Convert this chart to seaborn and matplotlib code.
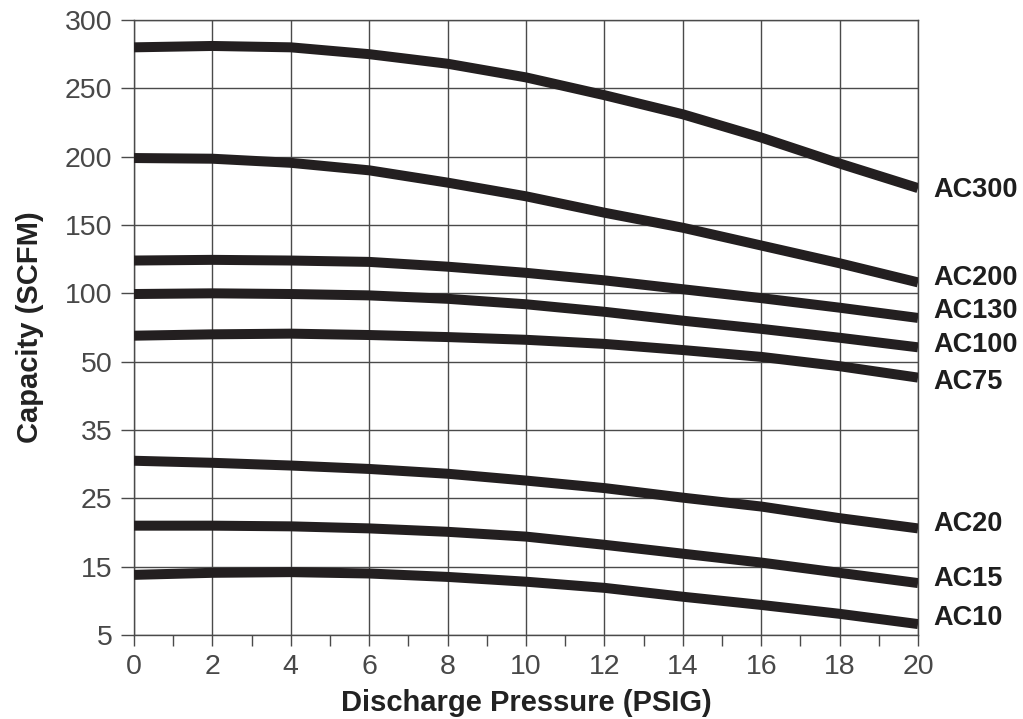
import numpy as np
import pandas as pd
import matplotlib
matplotlib.use("Agg")
import matplotlib.pyplot as plt
import seaborn as sns

# ---- data ----
pressure = [0, 2, 4, 6, 8, 10, 12, 14, 16, 18, 20]
ac300 = [280, 281, 280, 275, 268, 258, 245, 231, 214, 195, 177]
ac200 = [199, 198.5, 195.5, 190, 181, 171, 159, 148, 135, 122, 108]
ac130 = [124, 124.5, 124, 123, 119.5, 115, 109.5, 103, 96.5, 89.5, 82]
ac100 = [99.5, 100, 99.5, 98.5, 96, 92, 86.5, 80, 74, 67.5, 60.5]
ac75 = [69, 70, 70.5, 69.5, 68, 66, 63, 58.5, 53.5, 49, 46.5]
ac20 = [30.5, 30.2, 29.8, 29.3, 28.6, 27.6, 26.5, 25.1, 23.8, 22.1, 20.6]
ac15 = [21, 21, 20.9, 20.6, 20.1, 19.4, 18.2, 16.9, 15.6, 14.1, 12.6]
ac10 = [13.8, 14.1, 14.2, 14.0, 13.5, 12.8, 11.9, 10.6, 9.4, 8.1, 6.6]

models = ["AC300", "AC200", "AC130", "AC100", "AC75", "AC20", "AC15", "AC10"]
series = [ac300, ac200, ac130, ac100, ac75, ac20, ac15, ac10]
y_ticks = [5, 15, 25, 35, 50, 100, 150, 200, 250, 300]
x_ticks = [0, 2, 4, 6, 8, 10, 12, 14, 16, 18, 20]
x_label = "Discharge Pressure (PSIG)"
y_label = "Capacity (SCFM)"

# label vertical offsets (points) relative to each curve end
label_dy = [-1.5, 3.5, 5, 2, -3.5, 3, 3, 4.5]

df = pd.DataFrame({
    "pressure": pressure * len(models),
    "capacity": [v for s in series for v in s],
    "model": [m for m in models for _ in pressure],
})

sns.set_theme(style="white")
plt.rcParams["font.family"] = ["Liberation Sans", "DejaVu Sans"]

line_color = "#231f20"
grid_color = "#4a4a4a"
text_color = "#484848"

fig = plt.figure(figsize=(10.23, 7.19), dpi=100)
ax = fig.add_axes([134 / 1023, 1 - 635 / 719, (918 - 134) / 1023, (635 - 20) / 719])

sns.lineplot(data=df, x="pressure", y="capacity", hue="model",
             palette={m: line_color for m in models}, legend=False,
             linewidth=7.2, sort=False, ax=ax, zorder=3)
for ln in ax.get_lines():
    ln.set_solid_capstyle("butt")
    ln.set_solid_joinstyle("round")

pos = np.arange(len(y_ticks), dtype=float)


def fwd(v):
    return np.interp(v, y_ticks, pos)


def inv(p):
    return np.interp(p, pos, y_ticks)


ax.set_yscale("function", functions=(fwd, inv))
ax.set_ylim(5, 300)
ax.set_xlim(0, 20)
ax.set_yticks(y_ticks)
ax.set_yticklabels([str(t) for t in y_ticks])
ax.set_xticks(x_ticks)
ax.set_xticklabels([str(t) for t in x_ticks])
ax.set_xticks(np.arange(1, 20, 2), minor=True)
ax.yaxis.set_minor_locator(matplotlib.ticker.NullLocator())

ax.grid(True, which="major", color=grid_color, linewidth=1.0, zorder=1)
for sp in ax.spines.values():
    sp.set_visible(True)
    sp.set_color(grid_color)
    sp.set_linewidth(1.0)

ax.tick_params(axis="x", which="both", direction="out", length=8, width=1.0,
               color=grid_color, pad=6, labelsize=20.5, labelcolor=text_color,
               bottom=True)
ax.tick_params(axis="y", which="major", direction="out", length=9.5, width=1.0,
               color=grid_color, pad=6, labelsize=20.5, labelcolor=text_color,
               left=True)

ax.set_xlabel(x_label, fontsize=21, fontweight="bold", color="#222222", labelpad=6.5)
ax.set_ylabel(y_label, fontsize=21, fontweight="bold", color="#222222", labelpad=15)

for m, s, dy in zip(models, series, label_dy):
    ax.annotate(m, xy=(pressure[-1], s[-1]), xytext=(11, dy),
                textcoords="offset points", ha="left", va="center",
                fontsize=19.5, fontweight="bold", color="#1e1e1e",
                annotation_clip=False)

fig.savefig("out.png", dpi=100, facecolor="white")
